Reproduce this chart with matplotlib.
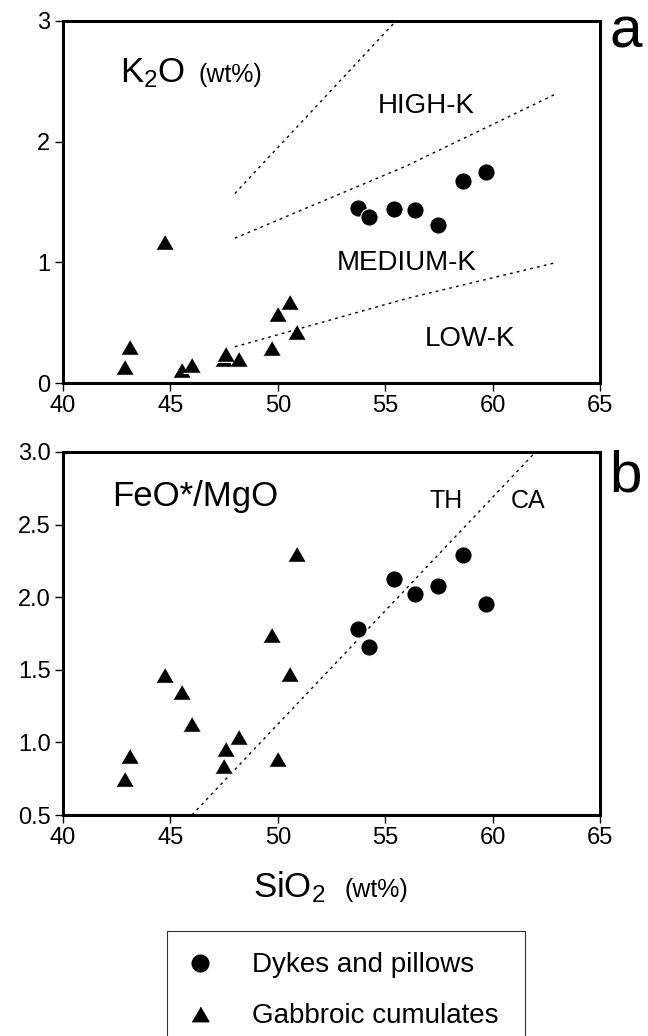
import matplotlib
matplotlib.use("Agg")
import matplotlib.pyplot as plt
from matplotlib.lines import Line2D

plt.rcParams['font.family'] = ['Liberation Sans', 'DejaVu Sans']
plt.rcParams['mathtext.default'] = 'regular'

# data
dykes_sio2 = [53.75, 54.25, 55.4, 56.4, 57.45, 58.6, 59.7]
dykes_k2o = [1.45, 1.375, 1.445, 1.43, 1.31, 1.67, 1.75]
dykes_feomgo = [1.78, 1.66, 2.125, 2.02, 2.08, 2.29, 1.95]

gab_sio2 = [42.9, 43.1, 44.75, 45.55, 46.0, 47.5, 47.6, 48.2, 49.75, 50.0, 50.55, 50.9]
gab_k2o = [0.13, 0.30, 1.17, 0.105, 0.15, 0.20, 0.24, 0.20, 0.29, 0.575, 0.67, 0.42]
gab_feomgo = [0.75, 0.905, 1.465, 1.35, 1.125, 0.835, 0.955, 1.035, 1.74, 0.885, 1.47, 2.295]

# boundary lines (Peccerillo & Taylor style / Miyashiro)
shos_x, shos_y = [48, 55.5], [1.57, 3.0]
highk_x, highk_y = [48, 52, 56, 63], [1.2, 1.5, 1.8, 2.4]
lowk_x, lowk_y = [48, 52, 56, 63], [0.3, 0.5, 0.7, 1.0]
miya_x, miya_y = [46, 62], [0.5, 3.0]

x_ticks = [40, 45, 50, 55, 60, 65]
k2o_ticks = [0, 1, 2, 3]
feo_ticks = [0.5, 1.0, 1.5, 2.0, 2.5, 3.0]

W, H = 648, 1036
fig = plt.figure(figsize=(W / 100, H / 100), dpi=100)

def px(x, y):
    return x / W, 1 - y / H

tri = [(-1, -0.866), (1, -0.866), (0, 0.866)]
dot_ls = (0, (2, 3))

def style_axes(ax):
    for s in ax.spines.values():
        s.set_linewidth(2.2)
    ax.tick_params(direction='out', length=6, width=1, labelsize=17, pad=3,
                   top=False, right=False)
    ax.set_xlim(40, 65)
    ax.set_xticks(x_ticks)
    ax.set_xticklabels([str(t) for t in x_ticks])

# panel a
ax1 = fig.add_axes([63 / W, 1 - 383 / H, 537 / W, 362 / H])
style_axes(ax1)
ax1.set_ylim(0, 3)
ax1.set_yticks(k2o_ticks)
ax1.set_yticklabels([str(t) for t in k2o_ticks])
for lx, ly in [(shos_x, shos_y), (highk_x, highk_y), (lowk_x, lowk_y)]:
    ax1.plot(lx, ly, color='black', lw=1.0, ls=dot_ls)
ax1.scatter(dykes_sio2, dykes_k2o, s=155, marker='o', c='black',
            edgecolors='white', linewidths=0.8, zorder=3)
ax1.scatter(gab_sio2, gab_k2o, s=170, marker=tri, c='black',
            edgecolors='white', linewidths=0.8, zorder=3)

# panel b
ax2 = fig.add_axes([63 / W, 1 - 815 / H, 537 / W, 363 / H])
style_axes(ax2)
ax2.set_ylim(0.5, 3.0)
ax2.set_yticks(feo_ticks)
ax2.set_yticklabels(['%.1f' % t for t in feo_ticks])
ax2.plot(miya_x, miya_y, color='black', lw=1.0, ls=dot_ls)
ax2.scatter(dykes_sio2, dykes_feomgo, s=155, marker='o', c='black',
            edgecolors='white', linewidths=0.8, zorder=3)
ax2.scatter(gab_sio2, gab_feomgo, s=170, marker=tri, c='black',
            edgecolors='white', linewidths=0.8, zorder=3)

# labels
fig.text(*px(120, 82), 'K$_2$O', fontsize=25, va='baseline')
fig.text(*px(198, 82), '(wt%)', fontsize=18, va='baseline')
fig.text(*px(378, 113), 'HIGH-K', fontsize=20, va='baseline')
fig.text(*px(337, 270), 'MEDIUM-K', fontsize=20, va='baseline')
fig.text(*px(425, 346), 'LOW-K', fontsize=20, va='baseline')
fig.text(*px(609, 48), 'a', fontsize=42, va='baseline')

fig.text(*px(112, 506), 'FeO*/MgO', fontsize=25, va='baseline')
fig.text(*px(430, 508), 'TH', fontsize=18, va='baseline')
fig.text(*px(511, 508), 'CA', fontsize=18, va='baseline')
fig.text(*px(609, 492), 'b', fontsize=42, va='baseline')

fig.text(*px(253, 897), 'SiO$_2$', fontsize=25, va='baseline')
fig.text(*px(345, 897), '(wt%)', fontsize=18, va='baseline')

# legend
handles = [
    Line2D([], [], ls='none', marker='o', color='black', markersize=12),
    Line2D([], [], ls='none', marker=tri, color='black', markersize=12),
]
lx0, ly0 = px(167, 932)
lx1, _ = px(525, 932)
leg = fig.legend(handles, ['Dykes and pillows', 'Gabbroic cumulates'],
                 loc='upper left', bbox_to_anchor=(lx0, ly0, lx1 - lx0, 0.001),
                 mode='expand', borderaxespad=0, fontsize=20, frameon=True,
                 fancybox=False, edgecolor='black', borderpad=0.77,
                 labelspacing=0.9, handlelength=0.83, handletextpad=1.46)
leg.get_frame().set_linewidth(0.8)

fig.savefig('out.png', dpi=100)
